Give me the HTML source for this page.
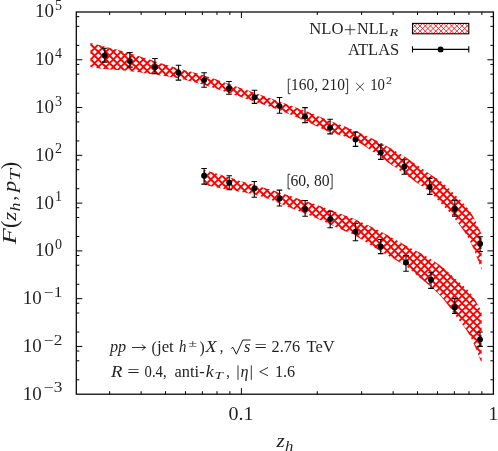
<!DOCTYPE html>
<html><head><meta charset="utf-8"><title>plot</title><style>html,body{margin:0;padding:0;background:#fff}svg{display:block}</style></head><body>
<svg width="498" height="451" viewBox="0 0 498 451">
<rect width="100%" height="100%" fill="#fff"/>
<defs><filter id="gf" x="0" y="0" width="498" height="451" filterUnits="userSpaceOnUse"><feOffset dx="0" dy="0"/></filter></defs>
<clipPath id="c1"><path d="M90.40,43.00 L91.44,43.25 L92.74,43.55 L94.28,43.92 L96.04,44.33 L97.99,44.80 L100.12,45.32 L102.39,45.89 L104.80,46.50 L107.42,47.17 L110.30,47.92 L113.39,48.72 L116.63,49.56 L119.95,50.44 L123.29,51.35 L126.60,52.27 L129.80,53.20 L132.94,54.15 L136.10,55.15 L139.27,56.17 L142.44,57.22 L145.59,58.27 L148.73,59.31 L151.83,60.32 L154.90,61.30 L157.91,62.25 L160.86,63.17 L163.77,64.08 L166.67,64.97 L169.57,65.86 L172.49,66.74 L175.46,67.62 L178.50,68.50 L181.61,69.37 L184.78,70.21 L187.98,71.03 L191.22,71.86 L194.46,72.70 L197.70,73.56 L200.92,74.46 L204.10,75.40 L207.24,76.39 L210.36,77.43 L213.46,78.49 L216.56,79.58 L219.65,80.69 L222.75,81.80 L225.86,82.90 L229.00,84.00 L232.16,85.09 L235.34,86.19 L238.54,87.29 L241.74,88.39 L244.95,89.50 L248.15,90.60 L251.33,91.70 L254.50,92.80 L257.65,93.89 L260.77,94.97 L263.89,96.04 L267.00,97.12 L270.11,98.20 L273.23,99.29 L276.35,100.38 L279.50,101.50 L282.67,102.63 L285.85,103.76 L289.05,104.90 L292.25,106.06 L295.45,107.22 L298.65,108.40 L301.83,109.59 L305.00,110.80 L308.23,112.07 L311.57,113.42 L314.94,114.80 L318.28,116.19 L321.53,117.54 L324.61,118.82 L327.45,119.98 L330.00,121.00 L332.20,121.85 L334.11,122.55 L335.78,123.14 L337.28,123.66 L338.69,124.14 L340.07,124.62 L341.48,125.13 L343.00,125.70 L344.59,126.32 L346.16,126.95 L347.72,127.59 L349.28,128.23 L350.83,128.88 L352.39,129.55 L353.94,130.22 L355.50,130.90 L357.06,131.59 L358.62,132.30 L360.17,133.02 L361.73,133.75 L363.29,134.48 L364.85,135.22 L366.42,135.96 L368.00,136.70 L369.51,137.39 L370.94,138.01 L372.32,138.60 L373.73,139.21 L375.23,139.88 L376.86,140.66 L378.70,141.58 L380.80,142.70 L383.27,144.07 L386.11,145.68 L389.19,147.46 L392.39,149.33 L395.59,151.22 L398.67,153.07 L401.52,154.78 L404.00,156.30 L406.12,157.62 L407.97,158.81 L409.64,159.91 L411.16,160.94 L412.60,161.94 L414.01,162.93 L415.46,163.94 L417.00,165.00 L418.60,166.11 L420.21,167.22 L421.80,168.35 L423.39,169.47 L424.98,170.60 L426.56,171.71 L428.13,172.81 L429.70,173.90 L431.25,174.94 L432.79,175.92 L434.32,176.88 L435.84,177.83 L437.37,178.81 L438.90,179.85 L440.44,180.97 L442.00,182.20 L443.56,183.52 L445.11,184.91 L446.66,186.36 L448.22,187.87 L449.80,189.45 L451.42,191.10 L453.08,192.82 L454.80,194.60 L456.61,196.44 L458.52,198.33 L460.48,200.28 L462.48,202.31 L464.46,204.41 L466.40,206.60 L468.26,208.90 L470.00,211.30 L471.70,214.01 L473.43,217.09 L475.12,220.37 L476.75,223.69 L478.26,226.89 L479.60,229.78 L480.73,232.21 L481.60,234.00 L481.60,270.00 L480.73,267.73 L479.60,264.67 L478.26,261.03 L476.75,257.00 L475.12,252.80 L473.43,248.62 L471.70,244.69 L470.00,241.20 L468.26,238.04 L466.40,234.96 L464.46,231.98 L462.48,229.10 L460.48,226.33 L458.52,223.69 L456.61,221.17 L454.80,218.80 L453.08,216.60 L451.42,214.59 L449.80,212.73 L448.22,210.98 L446.66,209.31 L445.11,207.68 L443.56,206.05 L442.00,204.40 L440.44,202.72 L438.90,201.06 L437.37,199.42 L435.84,197.82 L434.32,196.25 L432.79,194.74 L431.25,193.29 L429.70,191.90 L428.13,190.60 L426.56,189.39 L424.98,188.25 L423.39,187.16 L421.80,186.09 L420.21,185.02 L418.60,183.93 L417.00,182.80 L415.46,181.68 L414.01,180.63 L412.60,179.59 L411.16,178.53 L409.64,177.42 L407.97,176.22 L406.12,174.89 L404.00,173.40 L401.52,171.67 L398.67,169.70 L395.59,167.58 L392.39,165.39 L389.19,163.19 L386.11,161.08 L383.27,159.12 L380.80,157.40 L378.70,155.91 L376.86,154.58 L375.23,153.37 L373.73,152.26 L372.32,151.22 L370.94,150.21 L369.51,149.22 L368.00,148.20 L366.42,147.17 L364.85,146.16 L363.29,145.18 L361.73,144.23 L360.17,143.31 L358.62,142.43 L357.06,141.59 L355.50,140.80 L353.94,140.07 L352.39,139.39 L350.83,138.76 L349.28,138.17 L347.72,137.61 L346.16,137.06 L344.59,136.53 L343.00,136.00 L341.48,135.54 L340.07,135.18 L338.69,134.87 L337.28,134.57 L335.78,134.21 L334.11,133.75 L332.20,133.13 L330.00,132.30 L327.45,131.23 L324.61,129.95 L321.53,128.52 L318.28,126.98 L314.94,125.39 L311.57,123.79 L308.23,122.25 L305.00,120.80 L301.83,119.42 L298.65,118.04 L295.45,116.67 L292.25,115.31 L289.05,113.98 L285.85,112.68 L282.67,111.42 L279.50,110.20 L276.35,109.04 L273.23,107.93 L270.11,106.87 L267.00,105.83 L263.89,104.81 L260.77,103.79 L257.65,102.76 L254.50,101.70 L251.33,100.62 L248.15,99.52 L244.95,98.42 L241.74,97.32 L238.54,96.22 L235.34,95.13 L232.16,94.06 L229.00,93.00 L225.86,91.96 L222.75,90.92 L219.65,89.89 L216.56,88.87 L213.46,87.87 L210.36,86.89 L207.24,85.93 L204.10,85.00 L200.92,84.09 L197.70,83.19 L194.46,82.30 L191.22,81.44 L187.98,80.61 L184.78,79.82 L181.61,79.08 L178.50,78.40 L175.46,77.79 L172.49,77.24 L169.57,76.75 L166.67,76.30 L163.77,75.87 L160.86,75.46 L157.91,75.04 L154.90,74.60 L151.83,74.15 L148.73,73.69 L145.59,73.24 L142.44,72.80 L139.27,72.37 L136.10,71.96 L132.94,71.56 L129.80,71.20 L126.60,70.87 L123.29,70.56 L119.95,70.27 L116.63,70.01 L113.39,69.75 L110.30,69.50 L107.42,69.25 L104.80,69.00 L102.39,68.74 L100.12,68.46 L97.99,68.18 L96.04,67.91 L94.28,67.66 L92.74,67.43 L91.44,67.24 L90.40,67.10Z"/></clipPath><path clip-path="url(#c1)" d="M88.40,-363.05 L483.60,32.15 M88.40,-355.55 L483.60,39.65 M88.40,-348.05 L483.60,47.15 M88.40,-340.55 L483.60,54.65 M88.40,-333.05 L483.60,62.15 M88.40,-325.55 L483.60,69.65 M88.40,-318.05 L483.60,77.15 M88.40,-310.55 L483.60,84.65 M88.40,-303.05 L483.60,92.15 M88.40,-295.55 L483.60,99.65 M88.40,-288.05 L483.60,107.15 M88.40,-280.55 L483.60,114.65 M88.40,-273.05 L483.60,122.15 M88.40,-265.55 L483.60,129.65 M88.40,-258.05 L483.60,137.15 M88.40,-250.55 L483.60,144.65 M88.40,-243.05 L483.60,152.15 M88.40,-235.55 L483.60,159.65 M88.40,-228.05 L483.60,167.15 M88.40,-220.55 L483.60,174.65 M88.40,-213.05 L483.60,182.15 M88.40,-205.55 L483.60,189.65 M88.40,-198.05 L483.60,197.15 M88.40,-190.55 L483.60,204.65 M88.40,-183.05 L483.60,212.15 M88.40,-175.55 L483.60,219.65 M88.40,-168.05 L483.60,227.15 M88.40,-160.55 L483.60,234.65 M88.40,-153.05 L483.60,242.15 M88.40,-145.55 L483.60,249.65 M88.40,-138.05 L483.60,257.15 M88.40,-130.55 L483.60,264.65 M88.40,-123.05 L483.60,272.15 M88.40,-115.55 L483.60,279.65 M88.40,-108.05 L483.60,287.15 M88.40,-100.55 L483.60,294.65 M88.40,-93.05 L483.60,302.15 M88.40,-85.55 L483.60,309.65 M88.40,-78.05 L483.60,317.15 M88.40,-70.55 L483.60,324.65 M88.40,-63.05 L483.60,332.15 M88.40,-55.55 L483.60,339.65 M88.40,-48.05 L483.60,347.15 M88.40,-40.55 L483.60,354.65 M88.40,-33.05 L483.60,362.15 M88.40,-25.55 L483.60,369.65 M88.40,-18.05 L483.60,377.15 M88.40,-10.55 L483.60,384.65 M88.40,-3.05 L483.60,392.15 M88.40,4.45 L483.60,399.65 M88.40,11.95 L483.60,407.15 M88.40,19.45 L483.60,414.65 M88.40,26.95 L483.60,422.15 M88.40,34.45 L483.60,429.65 M88.40,41.95 L483.60,437.15 M88.40,49.45 L483.60,444.65 M88.40,56.95 L483.60,452.15 M88.40,64.45 L483.60,459.65 M88.40,71.95 L483.60,467.15 M88.40,79.45 L483.60,474.65 M88.40,86.95 L483.60,482.15 M88.40,94.45 L483.60,489.65 M88.40,101.95 L483.60,497.15 M88.40,109.45 L483.60,504.65 M88.40,116.95 L483.60,512.15 M88.40,124.45 L483.60,519.65 M88.40,131.95 L483.60,527.15 M88.40,139.45 L483.60,534.65 M88.40,146.95 L483.60,542.15 M88.40,154.45 L483.60,549.65 M88.40,161.95 L483.60,557.15 M88.40,169.45 L483.60,564.65 M88.40,176.95 L483.60,572.15 M88.40,184.45 L483.60,579.65 M88.40,191.95 L483.60,587.15 M88.40,199.45 L483.60,594.65 M88.40,206.95 L483.60,602.15 M88.40,214.45 L483.60,609.65 M88.40,221.95 L483.60,617.15 M88.40,229.45 L483.60,624.65 M88.40,236.95 L483.60,632.15 M88.40,244.45 L483.60,639.65 M88.40,251.95 L483.60,647.15 M88.40,259.45 L483.60,654.65 M88.40,266.95 L483.60,662.15 M88.40,274.45 L483.60,669.65 M88.40,281.95 L483.60,677.15 M88.40,31.85 L483.60,-363.35 M88.40,39.35 L483.60,-355.85 M88.40,46.85 L483.60,-348.35 M88.40,54.35 L483.60,-340.85 M88.40,61.85 L483.60,-333.35 M88.40,69.35 L483.60,-325.85 M88.40,76.85 L483.60,-318.35 M88.40,84.35 L483.60,-310.85 M88.40,91.85 L483.60,-303.35 M88.40,99.35 L483.60,-295.85 M88.40,106.85 L483.60,-288.35 M88.40,114.35 L483.60,-280.85 M88.40,121.85 L483.60,-273.35 M88.40,129.35 L483.60,-265.85 M88.40,136.85 L483.60,-258.35 M88.40,144.35 L483.60,-250.85 M88.40,151.85 L483.60,-243.35 M88.40,159.35 L483.60,-235.85 M88.40,166.85 L483.60,-228.35 M88.40,174.35 L483.60,-220.85 M88.40,181.85 L483.60,-213.35 M88.40,189.35 L483.60,-205.85 M88.40,196.85 L483.60,-198.35 M88.40,204.35 L483.60,-190.85 M88.40,211.85 L483.60,-183.35 M88.40,219.35 L483.60,-175.85 M88.40,226.85 L483.60,-168.35 M88.40,234.35 L483.60,-160.85 M88.40,241.85 L483.60,-153.35 M88.40,249.35 L483.60,-145.85 M88.40,256.85 L483.60,-138.35 M88.40,264.35 L483.60,-130.85 M88.40,271.85 L483.60,-123.35 M88.40,279.35 L483.60,-115.85 M88.40,286.85 L483.60,-108.35 M88.40,294.35 L483.60,-100.85 M88.40,301.85 L483.60,-93.35 M88.40,309.35 L483.60,-85.85 M88.40,316.85 L483.60,-78.35 M88.40,324.35 L483.60,-70.85 M88.40,331.85 L483.60,-63.35 M88.40,339.35 L483.60,-55.85 M88.40,346.85 L483.60,-48.35 M88.40,354.35 L483.60,-40.85 M88.40,361.85 L483.60,-33.35 M88.40,369.35 L483.60,-25.85 M88.40,376.85 L483.60,-18.35 M88.40,384.35 L483.60,-10.85 M88.40,391.85 L483.60,-3.35 M88.40,399.35 L483.60,4.15 M88.40,406.85 L483.60,11.65 M88.40,414.35 L483.60,19.15 M88.40,421.85 L483.60,26.65 M88.40,429.35 L483.60,34.15 M88.40,436.85 L483.60,41.65 M88.40,444.35 L483.60,49.15 M88.40,451.85 L483.60,56.65 M88.40,459.35 L483.60,64.15 M88.40,466.85 L483.60,71.65 M88.40,474.35 L483.60,79.15 M88.40,481.85 L483.60,86.65 M88.40,489.35 L483.60,94.15 M88.40,496.85 L483.60,101.65 M88.40,504.35 L483.60,109.15 M88.40,511.85 L483.60,116.65 M88.40,519.35 L483.60,124.15 M88.40,526.85 L483.60,131.65 M88.40,534.35 L483.60,139.15 M88.40,541.85 L483.60,146.65 M88.40,549.35 L483.60,154.15 M88.40,556.85 L483.60,161.65 M88.40,564.35 L483.60,169.15 M88.40,571.85 L483.60,176.65 M88.40,579.35 L483.60,184.15 M88.40,586.85 L483.60,191.65 M88.40,594.35 L483.60,199.15 M88.40,601.85 L483.60,206.65 M88.40,609.35 L483.60,214.15 M88.40,616.85 L483.60,221.65 M88.40,624.35 L483.60,229.15 M88.40,631.85 L483.60,236.65 M88.40,639.35 L483.60,244.15 M88.40,646.85 L483.60,251.65 M88.40,654.35 L483.60,259.15 M88.40,661.85 L483.60,266.65 M88.40,669.35 L483.60,274.15 M88.40,676.85 L483.60,281.65 " stroke="#ff0000" stroke-width="1.92" fill="none"/>
<clipPath id="c2"><path d="M203.70,169.80 L205.76,170.40 L208.59,171.23 L211.97,172.21 L215.68,173.29 L219.48,174.41 L223.16,175.49 L226.47,176.47 L229.20,177.30 L231.37,177.98 L233.19,178.58 L234.76,179.11 L236.14,179.59 L237.43,180.05 L238.70,180.49 L240.03,180.93 L241.50,181.40 L243.08,181.87 L244.67,182.34 L246.27,182.79 L247.88,183.23 L249.49,183.67 L251.10,184.11 L252.70,184.55 L254.30,185.00 L255.89,185.45 L257.49,185.89 L259.08,186.33 L260.67,186.78 L262.26,187.22 L263.84,187.67 L265.42,188.13 L267.00,188.60 L268.57,189.08 L270.14,189.57 L271.70,190.07 L273.26,190.57 L274.82,191.08 L276.38,191.59 L277.94,192.10 L279.50,192.60 L281.06,193.10 L282.61,193.59 L284.17,194.09 L285.72,194.58 L287.28,195.08 L288.84,195.58 L290.41,196.09 L292.00,196.60 L293.60,197.12 L295.22,197.65 L296.85,198.19 L298.49,198.73 L300.12,199.27 L301.76,199.82 L303.39,200.36 L305.00,200.90 L306.60,201.44 L308.21,201.97 L309.80,202.50 L311.39,203.03 L312.98,203.57 L314.56,204.10 L316.13,204.65 L317.70,205.20 L319.26,205.76 L320.80,206.32 L322.33,206.89 L323.86,207.47 L325.39,208.05 L326.92,208.63 L328.46,209.21 L330.00,209.80 L331.55,210.39 L333.10,210.98 L334.65,211.58 L336.21,212.18 L337.77,212.78 L339.34,213.39 L340.91,213.99 L342.50,214.60 L344.02,215.16 L345.43,215.65 L346.80,216.12 L348.21,216.60 L349.71,217.14 L351.38,217.77 L353.29,218.55 L355.50,219.50 L358.07,220.65 L360.94,221.95 L364.05,223.39 L367.33,224.93 L370.71,226.53 L374.11,228.19 L377.46,229.85 L380.70,231.50 L383.95,233.21 L387.32,235.06 L390.74,236.97 L394.14,238.90 L397.45,240.78 L400.57,242.57 L403.45,244.19 L406.00,245.60 L408.18,246.76 L410.03,247.72 L411.62,248.53 L413.05,249.23 L414.38,249.88 L415.68,250.52 L417.03,251.21 L418.50,252.00 L420.07,252.85 L421.64,253.72 L423.21,254.59 L424.78,255.47 L426.35,256.38 L427.91,257.30 L429.46,258.24 L431.00,259.20 L432.53,260.18 L434.04,261.16 L435.55,262.16 L437.04,263.18 L438.54,264.23 L440.03,265.31 L441.51,266.43 L443.00,267.60 L444.46,268.80 L445.88,270.03 L447.29,271.29 L448.70,272.59 L450.13,273.93 L451.62,275.33 L453.16,276.78 L454.80,278.30 L456.56,279.87 L458.45,281.49 L460.41,283.16 L462.41,284.88 L464.41,286.67 L466.37,288.53 L468.25,290.47 L470.00,292.50 L471.70,294.78 L473.43,297.36 L475.12,300.11 L476.75,302.89 L478.26,305.56 L479.60,307.97 L480.73,310.00 L481.60,311.50 L481.60,363.00 L480.73,360.88 L479.60,358.02 L478.26,354.61 L476.75,350.84 L475.12,346.90 L473.43,342.99 L471.70,339.29 L470.00,336.00 L468.25,333.02 L466.37,330.12 L464.41,327.32 L462.41,324.60 L460.41,321.97 L458.45,319.43 L456.56,316.97 L454.80,314.60 L453.16,312.33 L451.62,310.17 L450.13,308.10 L448.70,306.11 L447.29,304.20 L445.88,302.35 L444.46,300.55 L443.00,298.80 L441.51,297.10 L440.03,295.49 L438.54,293.93 L437.04,292.44 L435.55,290.99 L434.04,289.57 L432.53,288.18 L431.00,286.80 L429.46,285.46 L427.91,284.17 L426.35,282.93 L424.78,281.71 L423.21,280.50 L421.64,279.29 L420.07,278.06 L418.50,276.80 L417.03,275.54 L415.68,274.32 L414.38,273.10 L413.05,271.86 L411.62,270.59 L410.03,269.25 L408.18,267.83 L406.00,266.30 L403.45,264.64 L400.57,262.88 L397.45,261.03 L394.14,259.12 L390.74,257.17 L387.32,255.20 L383.95,253.23 L380.70,251.30 L377.46,249.31 L374.11,247.21 L370.71,245.06 L367.33,242.92 L364.05,240.85 L360.94,238.92 L358.07,237.18 L355.50,235.70 L353.29,234.51 L351.38,233.58 L349.71,232.83 L348.21,232.22 L346.80,231.70 L345.43,231.19 L344.02,230.64 L342.50,230.00 L340.91,229.30 L339.34,228.59 L337.77,227.89 L336.21,227.19 L334.65,226.50 L333.10,225.80 L331.55,225.10 L330.00,224.40 L328.46,223.70 L326.92,223.00 L325.39,222.29 L323.86,221.59 L322.33,220.89 L320.80,220.19 L319.26,219.49 L317.70,218.80 L316.13,218.11 L314.56,217.42 L312.98,216.74 L311.39,216.06 L309.80,215.38 L308.21,214.71 L306.60,214.05 L305.00,213.40 L303.39,212.77 L301.76,212.15 L300.12,211.54 L298.49,210.94 L296.85,210.34 L295.22,209.73 L293.60,209.12 L292.00,208.50 L290.41,207.86 L288.84,207.21 L287.28,206.56 L285.72,205.90 L284.17,205.24 L282.61,204.59 L281.06,203.94 L279.50,203.30 L277.94,202.67 L276.38,202.03 L274.82,201.40 L273.26,200.77 L271.70,200.15 L270.14,199.55 L268.57,198.96 L267.00,198.40 L265.42,197.86 L263.84,197.32 L262.26,196.80 L260.67,196.30 L259.08,195.82 L257.49,195.35 L255.89,194.91 L254.30,194.50 L252.70,194.12 L251.10,193.77 L249.49,193.45 L247.88,193.14 L246.27,192.85 L244.67,192.57 L243.08,192.29 L241.50,192.00 L240.03,191.73 L238.70,191.49 L237.43,191.28 L236.14,191.06 L234.76,190.82 L233.19,190.54 L231.37,190.21 L229.20,189.80 L226.47,189.27 L223.16,188.63 L219.48,187.91 L215.68,187.16 L211.97,186.43 L208.59,185.76 L205.76,185.20 L203.70,184.80Z"/></clipPath><path clip-path="url(#c2)" d="M201.70,-122.25 L483.60,159.65 M201.70,-114.75 L483.60,167.15 M201.70,-107.25 L483.60,174.65 M201.70,-99.75 L483.60,182.15 M201.70,-92.25 L483.60,189.65 M201.70,-84.75 L483.60,197.15 M201.70,-77.25 L483.60,204.65 M201.70,-69.75 L483.60,212.15 M201.70,-62.25 L483.60,219.65 M201.70,-54.75 L483.60,227.15 M201.70,-47.25 L483.60,234.65 M201.70,-39.75 L483.60,242.15 M201.70,-32.25 L483.60,249.65 M201.70,-24.75 L483.60,257.15 M201.70,-17.25 L483.60,264.65 M201.70,-9.75 L483.60,272.15 M201.70,-2.25 L483.60,279.65 M201.70,5.25 L483.60,287.15 M201.70,12.75 L483.60,294.65 M201.70,20.25 L483.60,302.15 M201.70,27.75 L483.60,309.65 M201.70,35.25 L483.60,317.15 M201.70,42.75 L483.60,324.65 M201.70,50.25 L483.60,332.15 M201.70,57.75 L483.60,339.65 M201.70,65.25 L483.60,347.15 M201.70,72.75 L483.60,354.65 M201.70,80.25 L483.60,362.15 M201.70,87.75 L483.60,369.65 M201.70,95.25 L483.60,377.15 M201.70,102.75 L483.60,384.65 M201.70,110.25 L483.60,392.15 M201.70,117.75 L483.60,399.65 M201.70,125.25 L483.60,407.15 M201.70,132.75 L483.60,414.65 M201.70,140.25 L483.60,422.15 M201.70,147.75 L483.60,429.65 M201.70,155.25 L483.60,437.15 M201.70,162.75 L483.60,444.65 M201.70,170.25 L483.60,452.15 M201.70,177.75 L483.60,459.65 M201.70,185.25 L483.60,467.15 M201.70,192.75 L483.60,474.65 M201.70,200.25 L483.60,482.15 M201.70,207.75 L483.60,489.65 M201.70,215.25 L483.60,497.15 M201.70,222.75 L483.60,504.65 M201.70,230.25 L483.60,512.15 M201.70,237.75 L483.60,519.65 M201.70,245.25 L483.60,527.15 M201.70,252.75 L483.60,534.65 M201.70,260.25 L483.60,542.15 M201.70,267.75 L483.60,549.65 M201.70,275.25 L483.60,557.15 M201.70,282.75 L483.60,564.65 M201.70,290.25 L483.60,572.15 M201.70,297.75 L483.60,579.65 M201.70,305.25 L483.60,587.15 M201.70,312.75 L483.60,594.65 M201.70,320.25 L483.60,602.15 M201.70,327.75 L483.60,609.65 M201.70,335.25 L483.60,617.15 M201.70,342.75 L483.60,624.65 M201.70,350.25 L483.60,632.15 M201.70,357.75 L483.60,639.65 M201.70,365.25 L483.60,647.15 M201.70,372.75 L483.60,654.65 M201.70,158.55 L483.60,-123.35 M201.70,166.05 L483.60,-115.85 M201.70,173.55 L483.60,-108.35 M201.70,181.05 L483.60,-100.85 M201.70,188.55 L483.60,-93.35 M201.70,196.05 L483.60,-85.85 M201.70,203.55 L483.60,-78.35 M201.70,211.05 L483.60,-70.85 M201.70,218.55 L483.60,-63.35 M201.70,226.05 L483.60,-55.85 M201.70,233.55 L483.60,-48.35 M201.70,241.05 L483.60,-40.85 M201.70,248.55 L483.60,-33.35 M201.70,256.05 L483.60,-25.85 M201.70,263.55 L483.60,-18.35 M201.70,271.05 L483.60,-10.85 M201.70,278.55 L483.60,-3.35 M201.70,286.05 L483.60,4.15 M201.70,293.55 L483.60,11.65 M201.70,301.05 L483.60,19.15 M201.70,308.55 L483.60,26.65 M201.70,316.05 L483.60,34.15 M201.70,323.55 L483.60,41.65 M201.70,331.05 L483.60,49.15 M201.70,338.55 L483.60,56.65 M201.70,346.05 L483.60,64.15 M201.70,353.55 L483.60,71.65 M201.70,361.05 L483.60,79.15 M201.70,368.55 L483.60,86.65 M201.70,376.05 L483.60,94.15 M201.70,383.55 L483.60,101.65 M201.70,391.05 L483.60,109.15 M201.70,398.55 L483.60,116.65 M201.70,406.05 L483.60,124.15 M201.70,413.55 L483.60,131.65 M201.70,421.05 L483.60,139.15 M201.70,428.55 L483.60,146.65 M201.70,436.05 L483.60,154.15 M201.70,443.55 L483.60,161.65 M201.70,451.05 L483.60,169.15 M201.70,458.55 L483.60,176.65 M201.70,466.05 L483.60,184.15 M201.70,473.55 L483.60,191.65 M201.70,481.05 L483.60,199.15 M201.70,488.55 L483.60,206.65 M201.70,496.05 L483.60,214.15 M201.70,503.55 L483.60,221.65 M201.70,511.05 L483.60,229.15 M201.70,518.55 L483.60,236.65 M201.70,526.05 L483.60,244.15 M201.70,533.55 L483.60,251.65 M201.70,541.05 L483.60,259.15 M201.70,548.55 L483.60,266.65 M201.70,556.05 L483.60,274.15 M201.70,563.55 L483.60,281.65 M201.70,571.05 L483.60,289.15 M201.70,578.55 L483.60,296.65 M201.70,586.05 L483.60,304.15 M201.70,593.55 L483.60,311.65 M201.70,601.05 L483.60,319.15 M201.70,608.55 L483.60,326.65 M201.70,616.05 L483.60,334.15 M201.70,623.55 L483.60,341.65 M201.70,631.05 L483.60,349.15 M201.70,638.55 L483.60,356.65 M201.70,646.05 L483.60,364.15 M201.70,653.55 L483.60,371.65 M201.70,661.05 L483.60,379.15 " stroke="#ff0000" stroke-width="1.92" fill="none"/>
<g stroke="#000" stroke-width="1" fill="none">
<rect x="76.30" y="12.00" width="417.10" height="382.20" stroke-width="1.25"/>
<path d="M76.30,379.82 h3.00 M493.40,379.82 h-3.00 M76.30,360.81 h3.00 M493.40,360.81 h-3.00 M76.30,351.05 h3.00 M493.40,351.05 h-3.00 M76.30,346.43 h6.00 M493.40,346.43 h-6.00 M76.30,332.04 h3.00 M493.40,332.04 h-3.00 M76.30,313.03 h3.00 M493.40,313.03 h-3.00 M76.30,303.28 h3.00 M493.40,303.28 h-3.00 M76.30,298.65 h6.00 M493.40,298.65 h-6.00 M76.30,284.27 h3.00 M493.40,284.27 h-3.00 M76.30,265.26 h3.00 M493.40,265.26 h-3.00 M76.30,255.50 h3.00 M493.40,255.50 h-3.00 M76.30,250.88 h6.00 M493.40,250.88 h-6.00 M76.30,236.49 h3.00 M493.40,236.49 h-3.00 M76.30,217.48 h3.00 M493.40,217.48 h-3.00 M76.30,207.73 h3.00 M493.40,207.73 h-3.00 M76.30,203.10 h6.00 M493.40,203.10 h-6.00 M76.30,188.72 h3.00 M493.40,188.72 h-3.00 M76.30,169.71 h3.00 M493.40,169.71 h-3.00 M76.30,159.95 h3.00 M493.40,159.95 h-3.00 M76.30,155.32 h6.00 M493.40,155.32 h-6.00 M76.30,140.94 h3.00 M493.40,140.94 h-3.00 M76.30,121.93 h3.00 M493.40,121.93 h-3.00 M76.30,112.18 h3.00 M493.40,112.18 h-3.00 M76.30,107.55 h6.00 M493.40,107.55 h-6.00 M76.30,93.17 h3.00 M493.40,93.17 h-3.00 M76.30,74.16 h3.00 M493.40,74.16 h-3.00 M76.30,64.40 h3.00 M493.40,64.40 h-3.00 M76.30,59.77 h6.00 M493.40,59.77 h-6.00 M76.30,45.39 h3.00 M493.40,45.39 h-3.00 M76.30,26.38 h3.00 M493.40,26.38 h-3.00 M76.30,16.63 h3.00 M493.40,16.63 h-3.00 M109.63,394.20 v-3.00 M109.63,12.00 v3.00 M141.12,394.20 v-3.00 M141.12,12.00 v3.00 M165.54,394.20 v-3.00 M165.54,12.00 v3.00 M185.49,394.20 v-3.00 M185.49,12.00 v3.00 M202.36,394.20 v-3.00 M202.36,12.00 v3.00 M216.98,394.20 v-3.00 M216.98,12.00 v3.00 M229.87,394.20 v-3.00 M229.87,12.00 v3.00 M241.40,394.20 v-6.00 M241.40,12.00 v6.00 M317.26,394.20 v-3.00 M317.26,12.00 v3.00 M361.63,394.20 v-3.00 M361.63,12.00 v3.00 M393.12,394.20 v-3.00 M393.12,12.00 v3.00 M417.54,394.20 v-3.00 M417.54,12.00 v3.00 M437.49,394.20 v-3.00 M437.49,12.00 v3.00 M454.36,394.20 v-3.00 M454.36,12.00 v3.00 M468.98,394.20 v-3.00 M468.98,12.00 v3.00 M481.87,394.20 v-3.00 M481.87,12.00 v3.00 "/>
</g>
<g stroke="#000" stroke-width="1.1" fill="none">
<path d="M104.80,48.30 V62.10 M102.00,48.30 h5.60 M102.00,62.10 h5.60 M129.90,52.50 V67.10 M127.10,52.50 h5.60 M127.10,67.10 h5.60 M154.90,58.50 V73.80 M152.10,58.50 h5.60 M152.10,73.80 h5.60 M178.50,65.30 V80.10 M175.70,65.30 h5.60 M175.70,80.10 h5.60 M204.10,72.70 V87.30 M201.30,72.70 h5.60 M201.30,87.30 h5.60 M229.00,81.50 V94.20 M226.20,81.50 h5.60 M226.20,94.20 h5.60 M254.50,90.20 V103.40 M251.70,90.20 h5.60 M251.70,103.40 h5.60 M279.50,97.50 V113.20 M276.70,97.50 h5.60 M276.70,113.20 h5.60 M305.00,107.60 V122.60 M302.20,107.60 h5.60 M302.20,122.60 h5.60 M330.10,119.20 V133.90 M327.30,119.20 h5.60 M327.30,133.90 h5.60 M355.50,132.10 V146.40 M352.70,132.10 h5.60 M352.70,146.40 h5.60 M380.80,145.10 V159.40 M378.00,145.10 h5.60 M378.00,159.40 h5.60 M404.30,159.80 V174.30 M401.50,159.80 h5.60 M401.50,174.30 h5.60 M429.70,178.40 V194.40 M426.90,178.40 h5.60 M426.90,194.40 h5.60 M454.80,200.30 V216.20 M452.00,200.30 h5.60 M452.00,216.20 h5.60 M480.10,236.80 V251.50 M477.30,236.80 h5.60 M477.30,251.50 h5.60 M204.10,168.50 V184.10 M201.30,168.50 h5.60 M201.30,184.10 h5.60 M229.20,175.70 V189.80 M226.40,175.70 h5.60 M226.40,189.80 h5.60 M254.30,181.50 V197.20 M251.50,181.50 h5.60 M251.50,197.20 h5.60 M279.50,190.10 V206.00 M276.70,190.10 h5.60 M276.70,206.00 h5.60 M305.10,200.50 V216.30 M302.30,200.50 h5.60 M302.30,216.30 h5.60 M330.20,211.20 V227.70 M327.40,211.20 h5.60 M327.40,227.70 h5.60 M355.50,223.50 V240.70 M352.70,223.50 h5.60 M352.70,240.70 h5.60 M380.70,239.50 V253.60 M377.90,239.50 h5.60 M377.90,253.60 h5.60 M406.00,255.60 V271.20 M403.20,255.60 h5.60 M403.20,271.20 h5.60 M431.00,272.70 V288.40 M428.20,272.70 h5.60 M428.20,288.40 h5.60 M454.80,298.60 V313.40 M452.00,298.60 h5.60 M452.00,313.40 h5.60 M480.00,332.00 V346.40 M477.20,332.00 h5.60 M477.20,346.40 h5.60 M412.5,49.4 H468.8 M412.5,46.3 v6.2 M468.8,46.3 v6.2 "/>
</g>
<g fill="#000">
<circle cx="104.80" cy="55.40" r="2.95"/>
<circle cx="129.90" cy="61.10" r="2.95"/>
<circle cx="154.90" cy="67.10" r="2.95"/>
<circle cx="178.50" cy="72.70" r="2.95"/>
<circle cx="204.10" cy="80.10" r="2.95"/>
<circle cx="229.00" cy="88.20" r="2.95"/>
<circle cx="254.50" cy="97.20" r="2.95"/>
<circle cx="279.50" cy="106.10" r="2.95"/>
<circle cx="305.00" cy="116.60" r="2.95"/>
<circle cx="330.10" cy="127.80" r="2.95"/>
<circle cx="355.50" cy="139.40" r="2.95"/>
<circle cx="380.80" cy="152.60" r="2.95"/>
<circle cx="404.30" cy="166.80" r="2.95"/>
<circle cx="429.70" cy="187.00" r="2.95"/>
<circle cx="454.80" cy="208.70" r="2.95"/>
<circle cx="480.10" cy="243.70" r="2.95"/>
<circle cx="204.10" cy="175.70" r="2.95"/>
<circle cx="229.20" cy="182.70" r="2.95"/>
<circle cx="254.30" cy="188.60" r="2.95"/>
<circle cx="279.50" cy="198.50" r="2.95"/>
<circle cx="305.10" cy="209.00" r="2.95"/>
<circle cx="330.20" cy="219.10" r="2.95"/>
<circle cx="355.50" cy="231.70" r="2.95"/>
<circle cx="380.70" cy="246.50" r="2.95"/>
<circle cx="406.00" cy="262.60" r="2.95"/>
<circle cx="431.00" cy="279.80" r="2.95"/>
<circle cx="454.80" cy="307.20" r="2.95"/>
<circle cx="480.00" cy="339.50" r="2.95"/>
<circle cx="440.6" cy="49.4" r="2.95"/>
</g>
<clipPath id="cl"><rect x="412.50" y="23.40" width="56.30" height="10.40"/></clipPath><path clip-path="url(#cl)" d="M411.50,-45.67 L469.80,12.63 M411.50,-40.42 L469.80,17.88 M411.50,-35.17 L469.80,23.13 M411.50,-29.92 L469.80,28.38 M411.50,-24.67 L469.80,33.63 M411.50,-19.42 L469.80,38.88 M411.50,-14.17 L469.80,44.13 M411.50,-8.92 L469.80,49.38 M411.50,-3.67 L469.80,54.63 M411.50,1.58 L469.80,59.88 M411.50,6.83 L469.80,65.13 M411.50,12.08 L469.80,70.38 M411.50,17.33 L469.80,75.63 M411.50,22.58 L469.80,80.88 M411.50,27.83 L469.80,86.13 M411.50,33.08 L469.80,91.38 M411.50,38.33 L469.80,96.63 M411.50,43.58 L469.80,101.88 M411.50,13.42 L469.80,-44.88 M411.50,18.67 L469.80,-39.63 M411.50,23.92 L469.80,-34.38 M411.50,29.17 L469.80,-29.13 M411.50,34.42 L469.80,-23.88 M411.50,39.67 L469.80,-18.63 M411.50,44.92 L469.80,-13.38 M411.50,50.17 L469.80,-8.13 M411.50,55.42 L469.80,-2.88 M411.50,60.67 L469.80,2.37 M411.50,65.92 L469.80,7.62 M411.50,71.17 L469.80,12.87 M411.50,76.42 L469.80,18.12 M411.50,81.67 L469.80,23.37 M411.50,86.92 L469.80,28.62 M411.50,92.17 L469.80,33.87 M411.50,97.42 L469.80,39.12 M411.50,102.67 L469.80,44.37 " stroke="#ff0000" stroke-width="0.85" fill="none"/>
<rect x="412.5" y="23.4" width="56.3" height="10.4" fill="none" stroke="#000" stroke-width="1.1"/>
<g font-family="'Liberation Serif', serif" fill="#000" fill-opacity="0.88" filter="url(#gf)">
<text x="22.70" y="399.60" font-size="19.50" text-anchor="start" textLength="19.00" lengthAdjust="spacingAndGlyphs">10</text>
<text x="44.00" y="392.30" font-size="14.00" text-anchor="start" textLength="18.40" lengthAdjust="spacingAndGlyphs">−3</text>
<text x="22.70" y="351.82" font-size="19.50" text-anchor="start" textLength="19.00" lengthAdjust="spacingAndGlyphs">10</text>
<text x="44.00" y="344.52" font-size="14.00" text-anchor="start" textLength="18.40" lengthAdjust="spacingAndGlyphs">−2</text>
<text x="22.70" y="304.05" font-size="19.50" text-anchor="start" textLength="19.00" lengthAdjust="spacingAndGlyphs">10</text>
<text x="44.00" y="296.75" font-size="14.00" text-anchor="start" textLength="18.40" lengthAdjust="spacingAndGlyphs">−1</text>
<text x="35.10" y="256.27" font-size="19.50" text-anchor="start" textLength="19.00" lengthAdjust="spacingAndGlyphs">10</text>
<text x="54.90" y="248.97" font-size="14.00" text-anchor="start" textLength="7.00" lengthAdjust="spacingAndGlyphs">0</text>
<text x="35.10" y="208.50" font-size="19.50" text-anchor="start" textLength="19.00" lengthAdjust="spacingAndGlyphs">10</text>
<text x="54.90" y="201.20" font-size="14.00" text-anchor="start" textLength="7.00" lengthAdjust="spacingAndGlyphs">1</text>
<text x="35.10" y="160.72" font-size="19.50" text-anchor="start" textLength="19.00" lengthAdjust="spacingAndGlyphs">10</text>
<text x="54.90" y="153.42" font-size="14.00" text-anchor="start" textLength="7.00" lengthAdjust="spacingAndGlyphs">2</text>
<text x="35.10" y="112.95" font-size="19.50" text-anchor="start" textLength="19.00" lengthAdjust="spacingAndGlyphs">10</text>
<text x="54.90" y="105.65" font-size="14.00" text-anchor="start" textLength="7.00" lengthAdjust="spacingAndGlyphs">3</text>
<text x="35.10" y="65.17" font-size="19.50" text-anchor="start" textLength="19.00" lengthAdjust="spacingAndGlyphs">10</text>
<text x="54.90" y="57.87" font-size="14.00" text-anchor="start" textLength="7.00" lengthAdjust="spacingAndGlyphs">4</text>
<text x="35.10" y="17.40" font-size="19.50" text-anchor="start" textLength="19.00" lengthAdjust="spacingAndGlyphs">10</text>
<text x="54.90" y="10.10" font-size="14.00" text-anchor="start" textLength="7.00" lengthAdjust="spacingAndGlyphs">5</text>
<text x="228.50" y="420.10" font-size="19.60" text-anchor="start" textLength="25.00" lengthAdjust="spacingAndGlyphs">0.1</text>
<text x="488.50" y="420.10" font-size="19.60" text-anchor="start" textLength="9.60" lengthAdjust="spacingAndGlyphs">1</text>
<text x="276.40" y="446.70" font-size="19.20" text-anchor="start" textLength="8.20" lengthAdjust="spacingAndGlyphs" font-style="italic">z</text>
<text x="285.00" y="450.60" font-size="14.00" text-anchor="start" textLength="8.40" lengthAdjust="spacingAndGlyphs" font-style="italic">h</text>
<text x="309.30" y="33.70" font-size="16.00" text-anchor="start" textLength="34.20" lengthAdjust="spacingAndGlyphs">NLO</text>
<path d="M344.8,29.7 H355.3 M350.05,24.5 V34.9" stroke="#000" stroke-width="0.75" fill="none"/>
<text x="357.00" y="33.70" font-size="16.00" text-anchor="start" textLength="31.30" lengthAdjust="spacingAndGlyphs">NLL</text>
<text x="389.50" y="36.00" font-size="11.20" text-anchor="start" textLength="8.80" lengthAdjust="spacingAndGlyphs" font-style="italic">R</text>
<text x="348.00" y="55.00" font-size="16.00" text-anchor="start" textLength="51.20" lengthAdjust="spacingAndGlyphs">ATLAS</text>
<path d="M290.5,79.1 H288.3 V93.7 H290.5 M345.4,79.1 H347.6 V93.7 H345.4" stroke="#000" stroke-width="0.8" fill="none"/>
<text x="291.00" y="90.20" font-size="16.00" text-anchor="start" textLength="54.00" lengthAdjust="spacingAndGlyphs">160, 210</text>
<path d="M356.2,83.0 L363.8,90.5 M363.8,83.0 L356.2,90.5" stroke="#000" stroke-width="0.75" fill="none"/>
<text x="370.20" y="90.20" font-size="16.00" text-anchor="start" textLength="14.80" lengthAdjust="spacingAndGlyphs">10</text>
<text x="386.00" y="84.20" font-size="11.20" text-anchor="start" textLength="6.00" lengthAdjust="spacingAndGlyphs">2</text>
<text x="110.00" y="352.30" font-size="16.00" text-anchor="start" textLength="16.20" lengthAdjust="spacingAndGlyphs" font-style="italic">pp</text>
<path d="M131.9,347.5 H145.4 M142.2,344.5 Q143.2,346.7 145.6,347.5 Q143.2,348.3 142.2,350.5" stroke="#000" stroke-width="0.8" fill="none"/>
<text x="151.60" y="352.90" font-size="16.40" text-anchor="start" textLength="5.20" lengthAdjust="spacingAndGlyphs">(</text>
<text x="157.00" y="352.30" font-size="16.00" text-anchor="start" textLength="16.80" lengthAdjust="spacingAndGlyphs">jet</text>
<text x="179.00" y="352.30" font-size="16.00" text-anchor="start" textLength="7.40" lengthAdjust="spacingAndGlyphs" font-style="italic">h</text>
<text x="188.60" y="347.30" font-size="11.20" text-anchor="start" textLength="8.60" lengthAdjust="spacingAndGlyphs">±</text>
<text x="199.60" y="352.90" font-size="16.40" text-anchor="start" textLength="5.20" lengthAdjust="spacingAndGlyphs">)</text>
<text x="205.60" y="352.30" font-size="16.00" text-anchor="start" textLength="11.00" lengthAdjust="spacingAndGlyphs" font-style="italic">X</text>
<text x="219.80" y="352.30" font-size="16.00" text-anchor="start" textLength="3.60" lengthAdjust="spacingAndGlyphs">,</text>
<path d="M231.3,348.4 L233.0,347.4 L236.4,354.2 L242.8,340.0 H250.6" stroke="#000" stroke-width="0.9" fill="none"/>
<text x="244.00" y="352.30" font-size="16.00" text-anchor="start" textLength="6.40" lengthAdjust="spacingAndGlyphs" font-style="italic">s</text>
<text x="254.60" y="352.30" font-size="16.00" text-anchor="start" textLength="12.40" lengthAdjust="spacingAndGlyphs">=</text>
<text x="271.60" y="352.30" font-size="16.00" text-anchor="start" textLength="28.60" lengthAdjust="spacingAndGlyphs">2.76</text>
<text x="306.60" y="352.30" font-size="16.00" text-anchor="start" textLength="28.00" lengthAdjust="spacingAndGlyphs">TeV</text>
<text x="111.00" y="376.80" font-size="16.00" text-anchor="start" textLength="11.40" lengthAdjust="spacingAndGlyphs" font-style="italic">R</text>
<text x="127.20" y="376.80" font-size="16.00" text-anchor="start" textLength="12.40" lengthAdjust="spacingAndGlyphs">=</text>
<text x="144.60" y="376.80" font-size="16.00" text-anchor="start" textLength="22.00" lengthAdjust="spacingAndGlyphs">0.4,</text>
<text x="174.60" y="376.80" font-size="16.00" text-anchor="start" textLength="30.00" lengthAdjust="spacingAndGlyphs">anti-</text>
<text x="205.80" y="376.80" font-size="16.00" text-anchor="start" textLength="8.00" lengthAdjust="spacingAndGlyphs" font-style="italic">k</text>
<text x="214.60" y="379.00" font-size="11.20" text-anchor="start" textLength="8.40" lengthAdjust="spacingAndGlyphs" font-style="italic">T</text>
<text x="226.20" y="376.80" font-size="16.00" text-anchor="start" textLength="3.60" lengthAdjust="spacingAndGlyphs">,</text>
<path d="M238.0,365.4 V379.8 M251.3,365.4 V379.8" stroke="#000" stroke-width="0.8" fill="none"/>
<text x="240.40" y="376.80" font-size="16.00" text-anchor="start" textLength="8.00" lengthAdjust="spacingAndGlyphs" font-style="italic">η</text>
<text x="258.60" y="377.80" font-size="18.00" text-anchor="start" textLength="10.40" lengthAdjust="spacingAndGlyphs">&lt;</text>
<text x="275.00" y="376.80" font-size="16.00" text-anchor="start" textLength="20.20" lengthAdjust="spacingAndGlyphs">1.6</text>
<g transform="translate(16,245) rotate(-90)">
<text x="0.80" y="0.00" font-size="19.50" text-anchor="start" textLength="16.00" lengthAdjust="spacingAndGlyphs" font-style="italic">F</text>
<text x="17.00" y="1.00" font-size="22.50" text-anchor="start" textLength="7.40" lengthAdjust="spacingAndGlyphs">(</text>
<text x="24.20" y="0.00" font-size="19.50" text-anchor="start" textLength="9.00" lengthAdjust="spacingAndGlyphs" font-style="italic">z</text>
<text x="33.80" y="4.00" font-size="14.00" text-anchor="start" textLength="8.60" lengthAdjust="spacingAndGlyphs" font-style="italic">h</text>
<text x="44.60" y="0.00" font-size="19.50" text-anchor="start" textLength="4.60" lengthAdjust="spacingAndGlyphs">,</text>
<text x="53.00" y="0.00" font-size="19.50" text-anchor="start" textLength="11.20" lengthAdjust="spacingAndGlyphs" font-style="italic">p</text>
<text x="64.00" y="4.00" font-size="14.00" text-anchor="start" textLength="12.00" lengthAdjust="spacingAndGlyphs" font-style="italic">T</text>
<text x="75.80" y="1.00" font-size="22.50" text-anchor="start" textLength="7.40" lengthAdjust="spacingAndGlyphs">)</text>
</g>
<path d="M290.3,174.3 H288.1 V188.9 H290.3 M329.9,174.3 H332.1 V188.9 H329.9" stroke="#000" stroke-width="0.8" fill="none"/>
<text x="290.40" y="185.70" font-size="16.00" text-anchor="start" textLength="39.20" lengthAdjust="spacingAndGlyphs">60, 80</text>
</g>
</svg>
</body></html>
